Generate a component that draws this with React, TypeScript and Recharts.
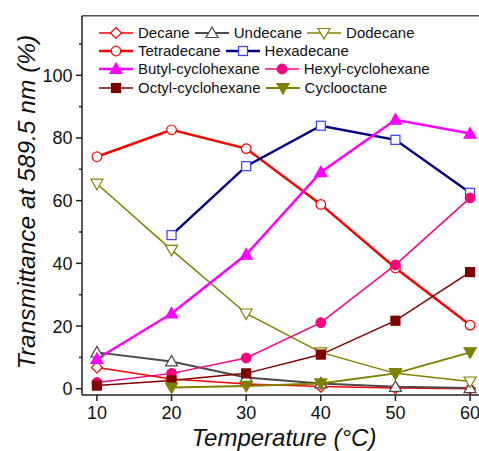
import React from "react";
import { LineChart, Line, XAxis, YAxis, ReferenceLine } from "recharts";

// temperatures (°C) and transmittance (%)
const temps = [10, 20, 30, 40, 50, 60];
const decane = [6.8, 3.1, 1.5, 0.7, 0.2, 0];
const undecane = [11.6, 8.7, 3.6, 1.7, 0.6, 0.2];
const dodecane = [65.4, 44.3, 24, 11.6, 4.9, 2.3];
const tetradecane = [74, 82.6, 76.6, 58.8, 38.5, 20.3];
const hexadecane = [null, 49, 71, 83.9, 79.4, 62.5];
const butylCyclohexane = [9.5, 24, 42.8, 69.1, 85.8, 81.4];
const hexylCyclohexane = [2, 4.9, 9.8, 21.1, 39.5, 60.9];
const octylCyclohexane = [1, 2.6, 4.9, 10.9, 21.7, 37.2];
const cyclooctane = [null, 0.4, 0.9, 1.7, 4.9, 11.6];

const xTicks = [10, 20, 30, 40, 50, 60];
const yTicks = [0, 10, 20, 30, 40, 50, 60, 70, 80, 90, 100, 110];

const data = temps.map((t, i) => ({
  t,
  decane: decane[i],
  undecane: undecane[i],
  dodecane: dodecane[i],
  tetradecane: tetradecane[i],
  hexadecane: hexadecane[i],
  butyl: butylCyclohexane[i],
  hexyl: hexylCyclohexane[i],
  octyl: octylCyclohexane[i],
  cyclooctane: cyclooctane[i],
}));

type Shape = "circle" | "square" | "diamond" | "up" | "down";

interface SeriesStyle {
  key: string;
  name: string;
  color: string;
  width: number;
  shape: Shape;
  filled: boolean;
  markColor?: string;
}

const series: SeriesStyle[] = [
  { key: "decane", name: "Decane", color: "#ff0000", width: 1.5, shape: "diamond", filled: false },
  { key: "undecane", name: "Undecane", color: "#4a4a4a", width: 2, shape: "up", filled: false },
  { key: "dodecane", name: "Dodecane", color: "#808000", width: 1.5, shape: "down", filled: false },
  { key: "tetradecane", name: "Tetradecane", color: "#ff0000", width: 2.5, shape: "circle", filled: false },
  { key: "hexadecane", name: "Hexadecane", color: "#000080", width: 2.5, shape: "square", filled: false, markColor: "#3b3bff" },
  { key: "butyl", name: "Butyl-cyclohexane", color: "#ff00ff", width: 2.5, shape: "up", filled: true },
  { key: "hexyl", name: "Hexyl-cyclohexane", color: "#ff0080", width: 1.5, shape: "circle", filled: true },
  { key: "octyl", name: "Octyl-cyclohexane", color: "#800000", width: 1.5, shape: "square", filled: true },
  { key: "cyclooctane", name: "Cyclooctane", color: "#808000", width: 2, shape: "down", filled: true },
];

const legendRows = [
  ["decane", "undecane", "dodecane"],
  ["tetradecane", "hexadecane"],
  ["butyl", "hexyl"],
  ["octyl", "cyclooctane"],
];

const FONT = "'Liberation Sans', Arial, sans-serif";

const Marker = ({ s, cx, cy }: { s: SeriesStyle; cx: number; cy: number }) => {
  const stroke = s.markColor || s.color;
  const fill = s.filled ? stroke : "#ffffff";
  const sw = 1.2;
  switch (s.shape) {
    case "circle":
      return <circle cx={cx} cy={cy} r={4.8} stroke={stroke} fill={fill} strokeWidth={sw} />;
    case "square":
      return <rect x={cx - 4.5} y={cy - 4.5} width={9} height={9} stroke={stroke} fill={fill} strokeWidth={sw} />;
    case "diamond":
      return (
        <polygon
          points={`${cx},${cy - 5.5} ${cx + 5.5},${cy} ${cx},${cy + 5.5} ${cx - 5.5},${cy}`}
          stroke={stroke}
          fill={fill}
          strokeWidth={sw}
        />
      );
    case "up":
      return (
        <polygon
          points={`${cx},${cy - 6} ${cx + 6},${cy + 4.5} ${cx - 6},${cy + 4.5}`}
          stroke={stroke}
          fill={fill}
          strokeWidth={sw}
        />
      );
    default:
      return (
        <polygon
          points={`${cx},${cy + 6} ${cx + 6},${cy - 4.5} ${cx - 6},${cy - 4.5}`}
          stroke={stroke}
          fill={fill}
          strokeWidth={sw}
        />
      );
  }
};

const YTick = (props: any) => {
  const { x, y, payload } = props;
  const major = payload.value % 20 === 0;
  return (
    <g>
      <line x1={x - (major ? 6 : 3)} x2={x} y1={y} y2={y} stroke="#222" strokeWidth={1.5} />
      {major && (
        <text x={x - 9.5} y={y} dy="0.36em" textAnchor="end" fontSize={18} fill="#111" fontFamily={FONT}>
          {payload.value}
        </text>
      )}
    </g>
  );
};

const LegendBox = () => (
  <div style={{ position: "absolute", left: 91, top: 16, fontSize: 15, lineHeight: "18.2px", color: "#111" }}>
    {legendRows.map((row, r) => (
      <div key={r} style={{ display: "flex", alignItems: "center", height: 18.2, whiteSpace: "nowrap" }}>
        {row.map((k) => {
          const s = series.find((x) => x.key === k)!;
          return (
            <span key={k} style={{ display: "inline-flex", alignItems: "center", marginRight: 5 }}>
              <svg width={34} height={14} style={{ display: "block" }}>
                <line x1={0} x2={34} y1={7} y2={7} stroke={s.color} strokeWidth={s.width} />
                <Marker s={s} cx={17} cy={7} />
              </svg>
              <span style={{ marginLeft: 5 }}>{s.name}</span>
            </span>
          );
        })}
      </div>
    ))}
  </div>
);

export default function App() {
  return (
    <div style={{ position: "relative", width: 479, height: 451, overflow: "hidden", background: "#fff" }}>
      <style>{"body{margin:0}"}</style>
      <div
        style={{
          position: "absolute",
          left: 8,
          top: 8,
          width: 471,
          height: 443,
          overflow: "hidden",
          fontFamily: FONT,
        }}
      >
        <LineChart width={490} height={443} data={data} margin={{ top: 7.7, right: 13, bottom: 6, left: 14 }}>
          <XAxis
            dataKey="t"
            type="number"
            domain={[8, 62]}
            ticks={xTicks}
            interval={0}
            allowDataOverflow
            height={50}
            tickSize={6}
            tickMargin={5}
            stroke="#222"
            strokeWidth={1.5}
            tick={{ fontSize: 18, fill: "#111", fontFamily: FONT }}
          />
          <YAxis
            type="number"
            domain={[-2, 119]}
            ticks={yTicks}
            interval={0}
            allowDataOverflow
            width={60}
            tickSize={0}
            tickMargin={0}
            tickLine={false}
            stroke="#222"
            strokeWidth={1.5}
            tick={YTick}
          />
          <ReferenceLine y={119} stroke="#555" strokeWidth={1.5} />
          {series.map((s) => (
            <Line
              key={s.key}
              type="linear"
              dataKey={s.key}
              name={s.name}
              stroke={s.color}
              strokeWidth={s.width}
              isAnimationActive={false}
              activeDot={false}
              dot={(p: any) =>
                p.cx == null || p.cy == null || p.value == null ? (
                  <g key={`${s.key}-${p.index}`} />
                ) : (
                  <g key={`${s.key}-${p.index}`}>
                    <Marker s={s} cx={p.cx} cy={p.cy} />
                  </g>
                )
              }
            />
          ))}
        </LineChart>
        <LegendBox />
        <div
          style={{
            position: "absolute",
            left: 18,
            top: 193.5,
            transform: "translate(-50%, -50%) rotate(-90deg)",
            whiteSpace: "nowrap",
            fontStyle: "italic",
            fontSize: 24.5,
            lineHeight: "25px",
            color: "#111",
          }}
        >
          Transmittance at 589.5 nm (%)
        </div>
        <div
          style={{
            position: "absolute",
            left: 276,
            top: 418,
            transform: "translateX(-50%)",
            whiteSpace: "nowrap",
            fontStyle: "italic",
            fontSize: 24,
            lineHeight: "24px",
            color: "#111",
          }}
        >
          Temperature (°C)
        </div>
      </div>
    </div>
  );
}
